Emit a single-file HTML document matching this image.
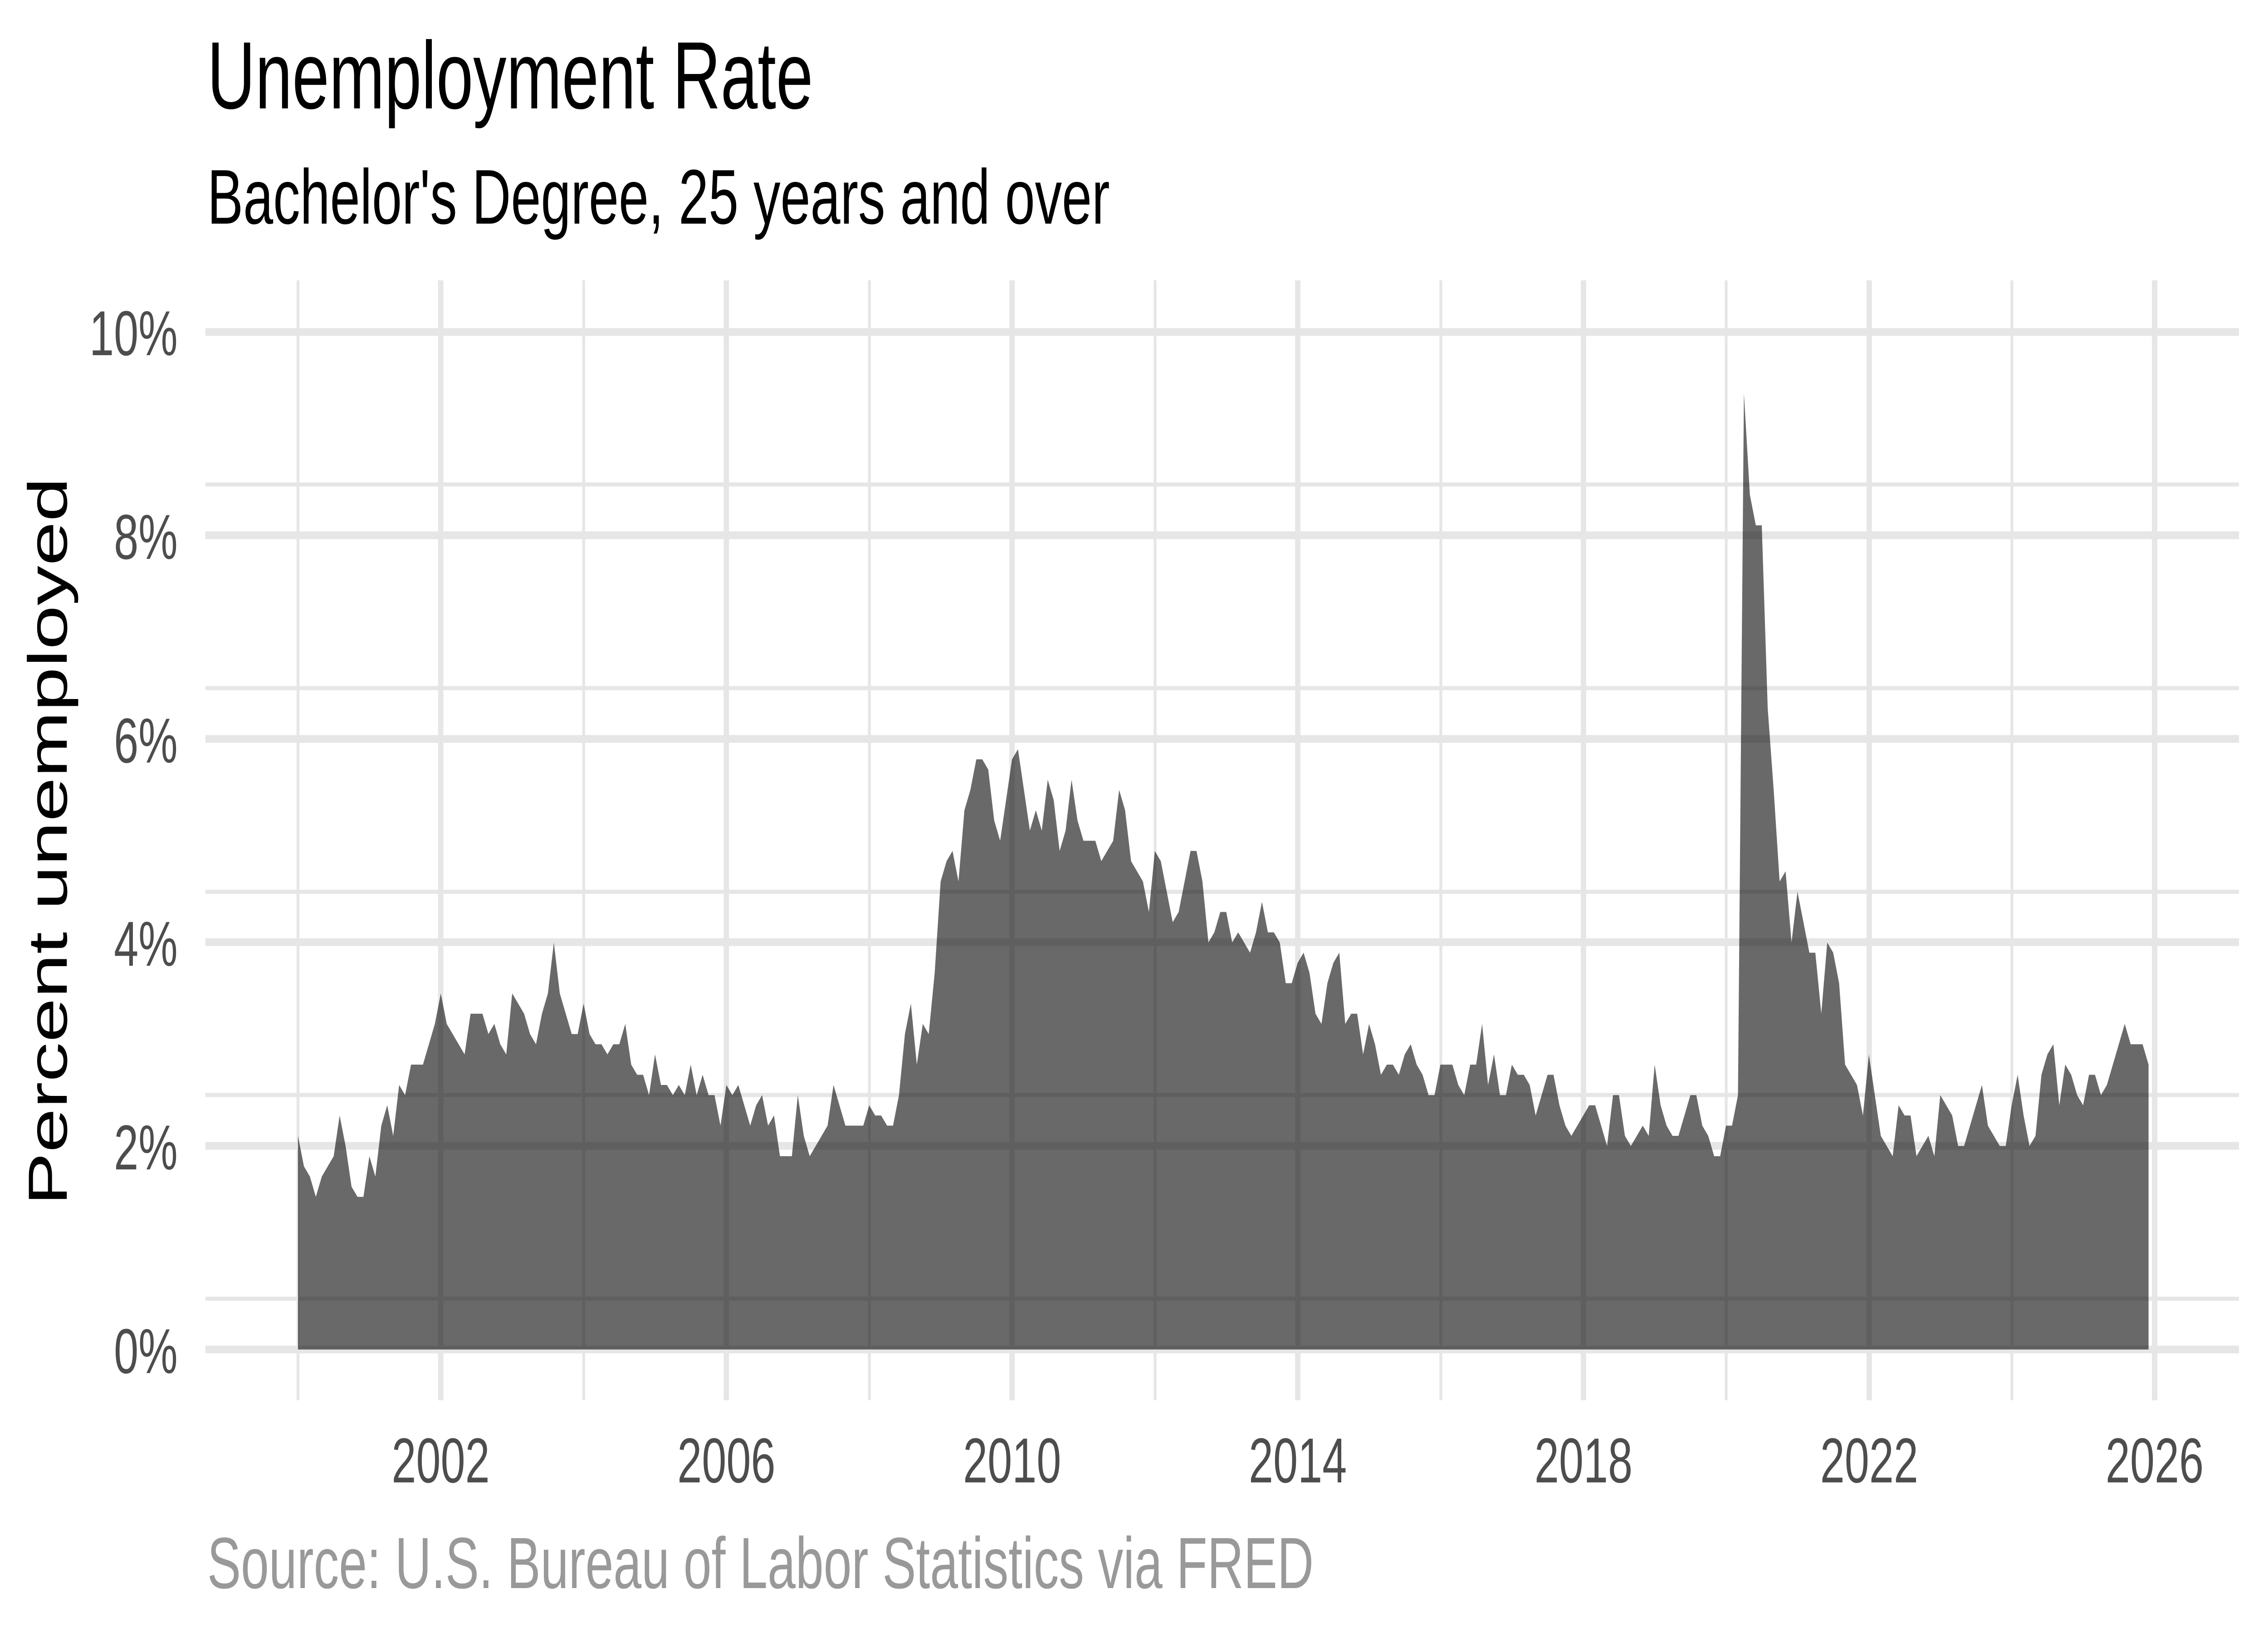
<!DOCTYPE html>
<html><head><meta charset="utf-8"><style>
html,body{margin:0;padding:0;background:#fff;width:100%;height:100%;overflow:hidden}
svg{display:block;width:100vw;height:100vh}
text{font-family:"Liberation Sans",Arial,sans-serif}
</style></head><body>
<svg viewBox="0 0 7200 3600" preserveAspectRatio="none" xmlns="http://www.w3.org/2000/svg">
<rect width="7200" height="3600" fill="#fff"/>
<g stroke="#e6e6e6">
<g stroke-width="9">
<line x1="652" x2="7108" y1="2863" y2="2863"/>
<line x1="652" x2="7108" y1="2414" y2="2414"/>
<line x1="652" x2="7108" y1="1966" y2="1966"/>
<line x1="652" x2="7108" y1="1517" y2="1517"/>
<line x1="652" x2="7108" y1="1068" y2="1068"/>
<line x1="946" x2="946" y1="618" y2="3087"/>
<line x1="1853" x2="1853" y1="618" y2="3087"/>
<line x1="2760" x2="2760" y1="618" y2="3087"/>
<line x1="3667" x2="3667" y1="618" y2="3087"/>
<line x1="4574" x2="4574" y1="618" y2="3087"/>
<line x1="5480" x2="5480" y1="618" y2="3087"/>
<line x1="6387" x2="6387" y1="618" y2="3087"/>
</g>
<g stroke-width="17">
<line x1="652" x2="7108" y1="2975" y2="2975"/>
<line x1="652" x2="7108" y1="2526" y2="2526"/>
<line x1="652" x2="7108" y1="2077" y2="2077"/>
<line x1="652" x2="7108" y1="1629" y2="1629"/>
<line x1="652" x2="7108" y1="1180" y2="1180"/>
<line x1="652" x2="7108" y1="732" y2="732"/>
<line x1="1399" x2="1399" y1="618" y2="3087"/>
<line x1="2306" x2="2306" y1="618" y2="3087"/>
<line x1="3213" x2="3213" y1="618" y2="3087"/>
<line x1="4120" x2="4120" y1="618" y2="3087"/>
<line x1="5027" x2="5027" y1="618" y2="3087"/>
<line x1="5934" x2="5934" y1="618" y2="3087"/>
<line x1="6840" x2="6840" y1="618" y2="3087"/>
</g>
</g>
<g transform="translate(946,2975) scale(18.89,-224.3)">
<polygon fill="#000" fill-opacity="0.59" points="0,0 0,2.1 1,1.8 2,1.7 3,1.5 4,1.7 5,1.8 6,1.9 7,2.3 8,2.0 9,1.6 10,1.5 11,1.5 12,1.9 13,1.7 14,2.2 15,2.4 16,2.1 17,2.6 18,2.5 19,2.8 20,2.8 21,2.8 22,3.0 23,3.2 24,3.5 25,3.2 26,3.1 27,3.0 28,2.9 29,3.3 30,3.3 31,3.3 32,3.1 33,3.2 34,3.0 35,2.9 36,3.5 37,3.4 38,3.3 39,3.1 40,3.0 41,3.3 42,3.5 43,4.0 44,3.5 45,3.3 46,3.1 47,3.1 48,3.4 49,3.1 50,3.0 51,3.0 52,2.9 53,3.0 54,3.0 55,3.2 56,2.8 57,2.7 58,2.7 59,2.5 60,2.9 61,2.6 62,2.6 63,2.5 64,2.6 65,2.5 66,2.8 67,2.5 68,2.7 69,2.5 70,2.5 71,2.2 72,2.6 73,2.5 74,2.6 75,2.4 76,2.2 77,2.4 78,2.5 79,2.2 80,2.3 81,1.9 82,1.9 83,1.9 84,2.5 85,2.1 86,1.9 87,2.0 88,2.1 89,2.2 90,2.6 91,2.4 92,2.2 93,2.2 94,2.2 95,2.2 96,2.4 97,2.3 98,2.3 99,2.2 100,2.2 101,2.5 102,3.1 103,3.4 104,2.8 105,3.2 106,3.1 107,3.7 108,4.6 109,4.8 110,4.9 111,4.6 112,5.3 113,5.5 114,5.8 115,5.8 116,5.7 117,5.2 118,5.0 119,5.4 120,5.8 121,5.9 122,5.5 123,5.1 124,5.3 125,5.1 126,5.6 127,5.4 128,4.9 129,5.1 130,5.6 131,5.2 132,5.0 133,5.0 134,5.0 135,4.8 136,4.9 137,5.0 138,5.5 139,5.3 140,4.8 141,4.7 142,4.6 143,4.3 144,4.9 145,4.8 146,4.5 147,4.2 148,4.3 149,4.6 150,4.9 151,4.9 152,4.6 153,4.0 154,4.1 155,4.3 156,4.3 157,4.0 158,4.1 159,4.0 160,3.9 161,4.1 162,4.4 163,4.1 164,4.1 165,4.0 166,3.6 167,3.6 168,3.8 169,3.9 170,3.7 171,3.3 172,3.2 173,3.6 174,3.8 175,3.9 176,3.2 177,3.3 178,3.3 179,2.9 180,3.2 181,3.0 182,2.7 183,2.8 184,2.8 185,2.7 186,2.9 187,3.0 188,2.8 189,2.7 190,2.5 191,2.5 192,2.8 193,2.8 194,2.8 195,2.6 196,2.5 197,2.8 198,2.8 199,3.2 200,2.6 201,2.9 202,2.5 203,2.5 204,2.8 205,2.7 206,2.7 207,2.6 208,2.3 209,2.5 210,2.7 211,2.7 212,2.4 213,2.2 214,2.1 215,2.2 216,2.3 217,2.4 218,2.4 219,2.2 220,2.0 221,2.5 222,2.5 223,2.1 224,2.0 225,2.1 226,2.2 227,2.1 228,2.8 229,2.4 230,2.2 231,2.1 232,2.1 233,2.3 234,2.5 235,2.5 236,2.2 237,2.1 238,1.9 239,1.9 240,2.2 241,2.2 242,2.5 243,9.4 244,8.4 245,8.1 246,8.1 247,6.3 248,5.5 249,4.6 250,4.7 251,4.0 252,4.5 253,4.2 254,3.9 255,3.9 256,3.3 257,4.0 258,3.9 259,3.6 260,2.8 261,2.7 262,2.6 263,2.3 264,2.9 265,2.5 266,2.1 267,2.0 268,1.9 269,2.4 270,2.3 271,2.3 272,1.9 273,2.0 274,2.1 275,1.9 276,2.5 277,2.4 278,2.3 279,2.0 280,2.0 281,2.2 282,2.4 283,2.6 284,2.2 285,2.1 286,2.0 287,2.0 288,2.4 289,2.7 290,2.3 291,2.0 292,2.1 293,2.7 294,2.9 295,3.0 296,2.4 297,2.8 298,2.7 299,2.5 300,2.4 301,2.7 302,2.7 303,2.5 304,2.6 305,2.8 306,3.0 307,3.2 308,3.0 309,3.0 310,3.0 311,2.8 311,0"/>
</g>
<text x="658" y="239" font-size="211" fill="#000">Unemployment Rate</text>
<text x="658" y="493" font-size="171" fill="#000">Bachelor's Degree, 25 years and over</text>
<g font-size="140" fill="#4d4d4d" text-anchor="end">
<text x="564" y="3027">0%</text>
<text x="564" y="2578">2%</text>
<text x="564" y="2129">4%</text>
<text x="564" y="1681">6%</text>
<text x="564" y="1232">8%</text>
<text x="564" y="783">10%</text>
</g>
<g font-size="140" fill="#4d4d4d" text-anchor="middle">
<text x="1399" y="3268">2002</text>
<text x="2306" y="3268">2006</text>
<text x="3213" y="3268">2010</text>
<text x="4120" y="3268">2014</text>
<text x="5027" y="3268">2018</text>
<text x="5934" y="3268">2022</text>
<text x="6840" y="3268">2026</text>
</g>
<text transform="translate(212,1855) rotate(-90)" font-size="175" fill="#000" text-anchor="middle">Percent unemployed</text>
<text x="658" y="3501" font-size="160" fill="#999999">Source: U.S. Bureau of Labor Statistics via FRED</text>
</svg>
</body></html>
